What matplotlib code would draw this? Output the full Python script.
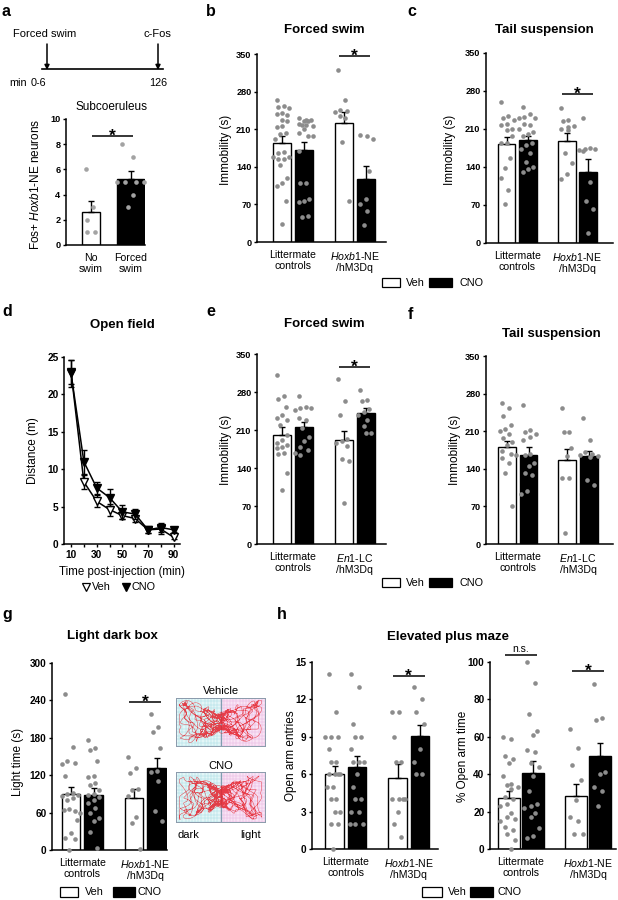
import numpy as np
import matplotlib
matplotlib.use('Agg')
import matplotlib.pyplot as plt
from matplotlib.patches import Rectangle

plt.rcParams['font.family'] = ['Liberation Sans', 'DejaVu Sans']
plt.rcParams['mathtext.fontset'] = 'custom'
plt.rcParams['mathtext.rm'] = 'Liberation Sans'
plt.rcParams['mathtext.it'] = 'Liberation Sans:italic'
plt.rcParams['mathtext.bf'] = 'Liberation Sans:bold'

W, H = 618, 900

# ---------------- data ----------------
# a: Fos+ neurons, subcoeruleus
a_labels = ['No\nswim', 'Forced\nswim']
a_means = [2.6, 5.25]
a_sems = [0.9, 0.65]
a_dots = [[6, 3, 2, 1, 1], [8, 7, 5, 5, 5, 5, 4, 3]]

hox_labels = ['Littermate\ncontrols', '$\\it{Hoxb1}$-NE\n/hM3Dq']
en1_labels = ['Littermate\ncontrols', '$\\it{En1}$-LC\n/hM3Dq']
# order of bars: littermate Veh, littermate CNO, transgenic Veh, transgenic CNO

# b: forced swim, Hoxb1-NE
b_means = [184, 171, 222, 118]
b_sems = [13, 15, 20, 23]
b_dots = [[265, 254, 252, 250, 240, 238, 236, 228, 225, 216, 214, 203, 201, 191,
           167, 166, 158, 158, 155, 155, 144, 119, 110, 104, 76, 34],
          [230, 228, 228, 226, 226, 220, 218, 218, 216, 210, 202, 198, 197, 170,
           110, 110, 80, 76, 75, 48, 46],
          [321, 264, 246, 244, 242, 234, 230, 186, 76],
          [200, 198, 191, 133, 80, 70, 57, 31]]

# c: tail suspension, Hoxb1-NE
c_means = [183, 189, 188, 131]
c_sems = [12, 9, 14, 24]
c_dots = [[260, 234, 231, 226, 219, 217, 210, 208, 198, 184, 184, 157, 138, 120, 98, 72],
          [250, 238, 232, 230, 230, 220, 218, 210, 204, 200, 198, 184, 180, 173,
           165, 150, 140, 137, 131],
          [248, 226, 224, 216, 214, 210, 208, 166, 148, 128, 118],
          [230, 175, 174, 173, 172, 170, 113, 77, 62, 18]]

# d: open field distance
d_time = [10, 20, 30, 40, 50, 60, 70, 80, 90]
d_veh = [23.0, 8.3, 5.7, 4.6, 3.8, 3.4, 1.9, 2.0, 0.9]
d_veh_err = [1.6, 0.9, 0.8, 0.8, 0.5, 0.4, 0.4, 0.6, 0.2]
d_cno = [22.8, 11.0, 7.5, 6.2, 4.3, 4.0, 1.9, 2.2, 1.9]
d_cno_err = [1.8, 1.6, 0.8, 1.1, 0.9, 0.7, 0.4, 0.6, 0.3]

# e: forced swim, En1-LC
e_means = [201, 215, 191, 241]
e_sems = [14, 10, 18, 9]
e_dots = [[312, 272, 268, 253, 237, 232, 228, 220, 200, 191, 186, 182, 179, 176,
           168, 165, 131, 99],
          [272, 252, 250, 250, 247, 232, 229, 214, 198, 190, 178, 173, 168, 164],
          [304, 263, 237, 193, 189, 186, 181, 156, 152, 76],
          [284, 266, 264, 248, 244, 238, 229, 218, 204, 204]]

# f: tail suspension, En1-LC
f_means = [180, 166, 157, 163]
f_sems = [11, 14, 20, 10]
f_dots = [[263, 254, 238, 222, 215, 210, 204, 198, 190, 184, 174, 168, 165, 160,
           150, 132, 70],
          [258, 212, 208, 204, 200, 194, 168, 166, 150, 146, 132, 128, 98, 94],
          [253, 209, 209, 178, 163, 123, 123, 20],
          [234, 194, 172, 168, 166, 164, 162, 120, 110]]

# g: light dark box
g_means = [90, 88, 84, 131]
g_sems = [11, 12, 14, 17]
g_dots = [[250, 166, 143, 140, 138, 119, 92, 90, 88, 86, 83, 80, 65, 64, 62, 60,
           48, 27, 20, 18, 0],
          [177, 164, 160, 143, 118, 117, 108, 104, 96, 90, 88, 85, 80, 75, 67, 59,
           52, 46, 29, 3],
          [150, 132, 124, 98, 96, 86, 53, 43, 1],
          [218, 198, 190, 163, 127, 125, 110, 62, 47]]

# h: elevated plus maze
h1_means = [6.0, 6.55, 5.7, 9.1]
h1_sems = [0.68, 0.88, 1.1, 0.85]
h1_dots = [[14, 11, 9, 9, 9, 8, 7, 7, 6, 6, 6, 6, 5, 5, 4, 4, 3, 3, 2, 2, 0],
           [14, 13, 10, 9, 9, 8, 7, 7, 7, 6, 5, 4, 4, 3, 3, 2, 2, 2],
           [11, 11, 9, 7, 7, 4, 4, 4, 4, 3, 2, 1],
           [13, 12, 11, 10, 8, 7, 6, 6]]

h2_means = [27.3, 40.5, 28.5, 49.5]
h2_sems = [3.8, 6.7, 6.2, 7.2]
h2_dots = [[60, 59, 50, 48, 46, 39, 35, 34, 33, 32, 28, 27, 24, 23, 19, 17, 16, 15,
            12, 10, 8, 5, 0],
           [100, 89, 72, 63, 61, 53, 52, 46, 44, 39, 31, 24, 23, 22, 19, 17, 11, 7, 6],
           [64, 54, 45, 37, 26, 17, 15, 8, 8],
           [88, 70, 69, 41, 40, 33, 31, 23]]

# ---------------- helpers ----------------
fig = plt.figure(figsize=(W / 100, H / 100), dpi=100)

DOT = '#8c8c8c'


def add_ax(box):
    l, t, r, b = box
    return fig.add_axes([l / W, 1 - b / H, (r - l) / W, (b - t) / H])


def style(ax, ymax, ystep, ysize):
    for s in ['top', 'right']:
        ax.spines[s].set_visible(False)
    for s in ['left', 'bottom']:
        ax.spines[s].set_linewidth(1.1)
    ax.set_ylim(0, ymax)
    ticks = np.arange(0, ymax + ystep / 2, ystep)
    ax.set_yticks(ticks)
    ax.set_yticklabels([f'{t:g}' for t in ticks], fontweight='bold', fontsize=ysize)
    ax.tick_params(axis='y', length=2.5, width=1, pad=1.5)


def spread(vals, span, half=0.4, sep=0.18):
    # simple deterministic swarm so equal values sit side by side
    cand = np.linspace(-half, half, 11)
    placed, out = [], []
    for i, v in enumerate(vals):
        pref = ((i * 0.618) % 1 - 0.5) * 1.3 * half
        near = [o for pv, o in placed if abs(pv - v) < span * 0.03]
        order = sorted(cand, key=lambda c: abs(c - pref))
        pick = order[0]
        for c in order:
            if all(abs(c - u) > sep for u in near):
                pick = c
                break
        placed.append((v, pick))
        out.append(pick)
    return np.array(out)


def bar_panel(ax, box, c0, unit, means, sems, dots, ymax, ystep, labels,
              pos=(0, 1, 2.8, 3.8), width=0.82, ysize=6.6, dotc=DOT,
              colors=('white', 'black', 'white', 'black')):
    l, t, r, b = box
    ax.set_xlim((l - c0) / unit, (r - c0) / unit)
    pos = np.array(pos, dtype=float)
    ax.bar(pos, means, width=width, color=colors, edgecolor='black', linewidth=1, zorder=2)
    ax.errorbar(pos, means, yerr=[np.zeros(len(means)), sems], fmt='none', ecolor='black',
                elinewidth=1, capsize=2.5, capthick=1, zorder=3)
    w = np.atleast_1d(width) * np.ones(len(pos))
    for p, ww, vals in zip(pos, w, dots):
        xs = spread(vals, ymax, half=ww * 0.5, sep=0.18)
        ax.scatter(p + xs, vals, s=11, color=dotc, linewidths=0, zorder=4, clip_on=False)
    style(ax, ymax, ystep, ysize)
    if len(pos) == 4:
        centers = [(pos[0] + pos[1]) / 2, (pos[2] + pos[3]) / 2]
    else:
        centers = pos
    ax.set_xticks(centers)
    ax.set_xticklabels(labels, fontsize=7.6, linespacing=1.05)
    ax.tick_params(axis='x', length=0, pad=6)
    return pos


def sig(ax, x1, x2, y, txt='*'):
    ax.plot([x1, x2], [y, y], color='black', lw=1.1, clip_on=False, solid_capstyle='butt')
    if txt == '*':
        ax.annotate(txt, xy=((x1 + x2) / 2, y), xytext=(0, -3.5), textcoords='offset points',
                    ha='center', va='baseline', fontsize=12.5, fontweight='bold',
                    annotation_clip=False)
    else:
        ax.annotate(txt, xy=((x1 + x2) / 2, y), xytext=(0, 1.0), textcoords='offset points',
                    ha='center', va='bottom', fontsize=7.5, annotation_clip=False)


# ---------------- panel boxes (pixels: left, top, right, bottom) ----------------
box_a = (66, 119, 145, 245)
box_b = (257, 54, 386, 242)
box_c = (486, 53, 613, 243)
box_d = (64, 357, 180, 544)
box_e = (257, 354, 386, 544)
box_f = (486, 356, 613, 544)
box_g = (52, 663, 167, 850)
box_h1 = (312, 662, 438, 849)
box_h2 = (490, 662, 616, 849)

# a
ax_a = add_ax(box_a)
bar_panel(ax_a, box_a, 91, 39.5, a_means, a_sems, a_dots, 10, 2, a_labels,
          pos=(0, 1), width=[0.46, 0.68], ysize=6.6, dotc='#a3a3a3', colors=('white', 'black'))
sig(ax_a, 0.03, 1.06, 8.65)

# b
ax_b = add_ax(box_b)
bar_panel(ax_b, box_b, 282, 22, b_means, b_sems, b_dots, 350, 70, hox_labels)
sig(ax_b, 3.3 - 0.72, 3.3 + 0.72, 346)

# c
ax_c = add_ax(box_c)
bar_panel(ax_c, box_c, 506.5, 21.5, c_means, c_sems, c_dots, 350, 70, hox_labels)
sig(ax_c, 3.3 - 0.72, 3.3 + 0.72, 274)

# d
ax_d = add_ax(box_d)
ax_d.errorbar(d_time, d_veh, yerr=d_veh_err, fmt='-v', color='black', mfc='white', mec='black',
              ms=5.5, mew=1, lw=1.1, elinewidth=1, capsize=2.5, capthick=1, clip_on=False, zorder=3)
ax_d.errorbar(d_time, d_cno, yerr=d_cno_err, fmt='-v', color='black', mfc='black', mec='black',
              ms=5.5, mew=1, lw=1.1, elinewidth=1, capsize=2.5, capthick=1, clip_on=False, zorder=4)
ax_d.set_xlim(4.5, 95)
style(ax_d, 25, 5, 7.3)
ax_d.set_xticks([10, 30, 50, 70, 90])
ax_d.set_xticklabels(['10', '30', '50', '70', '90'], fontweight='bold', fontsize=7.3)
ax_d.set_xticks([20, 40, 60, 80], minor=True)
ax_d.tick_params(axis='x', which='both', length=2.5, width=1, pad=1.5)

# e
ax_e = add_ax(box_e)
bar_panel(ax_e, box_e, 282, 22, e_means, e_sems, e_dots, 350, 70, en1_labels)
sig(ax_e, 3.3 - 0.72, 3.3 + 0.72, 326)

# f
ax_f = add_ax(box_f)
bar_panel(ax_f, box_f, 507, 21.5, f_means, f_sems, f_dots, 350, 70, en1_labels)

# g
ax_g = add_ax(box_g)
bar_panel(ax_g, box_g, 71, 22.5, g_means, g_sems, g_dots, 300, 60, hox_labels, ysize=7.2)
sig(ax_g, 3.3 - 0.72, 3.3 + 0.72, 237)

# h
ax_h1 = add_ax(box_h1)
bar_panel(ax_h1, box_h1, 334.5, 22.5, h1_means, h1_sems, h1_dots, 15, 3, hox_labels, ysize=7.2)
sig(ax_h1, 3.3 - 0.72, 3.3 + 0.72, 13.9)

ax_h2 = add_ax(box_h2)
bar_panel(ax_h2, box_h2, 509, 24, h2_means, h2_sems, h2_dots, 100, 20, hox_labels,
          width=0.9, ysize=7.2)
sig(ax_h2, 0.5 - 0.66, 0.5 + 0.66, 103.7, 'n.s.')
sig(ax_h2, 3.3 - 0.66, 3.3 + 0.66, 95.2)

# trajectory thumbnails in g
def traj(box, k):
    ax = add_ax(box)
    ax.set_xlim(0, 1)
    ax.set_ylim(0, 1)
    ax.set_xticks([])
    ax.set_yticks([])
    for s in ax.spines.values():
        s.set_color('#8a9aab')
        s.set_linewidth(0.7)
    ax.add_patch(Rectangle((0, 0), 0.5, 1, color='#e4f6f7', zorder=0))
    ax.add_patch(Rectangle((0.5, 0), 0.5, 1, color='#f9e4f5', zorder=0))
    for gx in np.linspace(0, 1, 29):
        ax.plot([gx, gx], [0, 1], color='#a6dde4' if gx < 0.5 else '#e7b2df', lw=0.35, zorder=1)
    for gy in np.linspace(0, 1, 15):
        ax.plot([0, 0.5], [gy, gy], color='#a6dde4', lw=0.35, zorder=1)
        ax.plot([0.5, 1], [gy, gy], color='#e7b2df', lw=0.35, zorder=1)
    ax.plot([0.5, 0.5], [0, 1], color='#7f9db0', lw=0.9, zorder=2)
    # scribble imitating the tracked path image
    t = np.linspace(0, 1, 4000)
    x = 0.5 + 0.44 * np.sin(2 * np.pi * (9 + k) * t) * np.sin(2 * np.pi * 2.3 * t + 0.4 + k)
    x = x + 0.05 * np.sin(2 * np.pi * 61 * t) + 0.03 * np.sin(2 * np.pi * 143 * t + k)
    amp = np.abs(x - 0.5) * 2
    y = 0.5 + 0.43 * np.sin(2 * np.pi * (23 + 2 * k) * t + 1) * np.clip(amp, 0.1, 1) ** 0.4
    y = y + 0.04 * np.sin(2 * np.pi * 97 * t) + 0.03 * np.sin(2 * np.pi * 171 * t + 2 * k)
    ax.plot(np.clip(x, 0.04, 0.96), np.clip(y, 0.05, 0.95), color='#e5212b', lw=0.35,
            alpha=0.85, zorder=3)
    return ax

traj((176, 698, 265, 746), 0)
traj((176, 772, 265, 822), 1)

# ---------------- overlay for text, legends, timeline ----------------
ov = fig.add_axes([0, 0, 1, 1], zorder=10)
ov.set_xlim(0, W)
ov.set_ylim(H, 0)
ov.axis('off')
ov.patch.set_alpha(0)

for s, x, y in [('a', 2, 16), ('b', 206, 16), ('c', 407, 16), ('d', 2, 316), ('e', 206, 316),
                ('f', 408, 319), ('g', 2, 619), ('h', 277, 619)]:
    ov.text(x, y, s, fontsize=11.5, fontweight='bold', ha='left', va='baseline')

for s, x, y in [('Forced swim', 324, 33), ('Tail suspension', 544, 33), ('Open field', 122, 328),
                ('Forced swim', 324, 327), ('Tail suspension', 551, 337),
                ('Light dark box', 112, 639), ('Elevated plus maze', 448, 640)]:
    ov.text(x, y, s, fontsize=9.5, fontweight='bold', ha='center', va='baseline')
ov.text(111, 110, 'Subcoeruleus', fontsize=8.5, ha='center', va='baseline')

for s, x, y in [('Fos+ $\\it{Hoxb1}$-NE neurons', 36, 184), ('Immobility (s)', 226, 150),
                ('Immobility (s)', 450, 150), ('Distance (m)', 33, 451),
                ('Immobility (s)', 226, 450), ('Immobility (s)', 455, 450),
                ('Light time (s)', 18, 762), ('Open arm entries', 291, 756),
                ('% Open arm time', 463, 756)]:
    ov.text(x, y, s, fontsize=8.5, rotation=90, ha='center', va='center')

ov.text(122, 575, 'Time post-injection (min)', fontsize=8.3, ha='center', va='baseline')

# timeline (panel a)
ov.text(45, 37, 'Forced swim', fontsize=8, ha='center', va='baseline')
ov.text(157, 37, 'c-Fos', fontsize=8, ha='center', va='baseline')
ov.plot([42, 163], [69, 69], color='black', lw=1.2)
for xa in (47, 158):
    ov.annotate('', xy=(xa, 70), xytext=(xa, 44),
                arrowprops=dict(arrowstyle='-|>', color='black', lw=1.1, mutation_scale=7,
                                shrinkA=0, shrinkB=0))
ov.text(9, 86, 'min', fontsize=7.8, ha='left', va='baseline')
ov.text(31, 86, '0-6', fontsize=7.8, ha='left', va='baseline')
ov.text(149, 86, '126', fontsize=7.8, ha='left', va='baseline')

# trajectory captions
ov.text(221, 694, 'Vehicle', fontsize=8, ha='center', va='baseline')
ov.text(221, 769, 'CNO', fontsize=8, ha='center', va='baseline')
ov.text(177, 838, 'dark', fontsize=8, ha='left', va='baseline')
ov.text(261, 838, 'light', fontsize=8, ha='right', va='baseline')


def legend_row(xw, xv, xb, xc, y0, y1, wb=18, bb=23):
    ov.add_patch(Rectangle((xw, y0), wb, y1 - y0, facecolor='white', edgecolor='black', lw=0.9))
    ov.add_patch(Rectangle((xb, y0), bb, y1 - y0, facecolor='black', edgecolor='black', lw=0.9))
    ym = (y0 + y1) / 2
    ov.text(xv, ym, 'Veh', fontsize=7.8, ha='left', va='center')
    ov.text(xc, ym, 'CNO', fontsize=7.8, ha='left', va='center')


legend_row(382, 406, 429, 459, 278, 287)
legend_row(382, 406, 429, 459, 578, 587)
legend_row(60, 85, 113, 138, 887, 897, wb=18, bb=22)
legend_row(422, 448, 470, 498, 887, 897, wb=20, bb=23)

# panel d legend
ov.plot([86], [587], marker='v', ms=5.5, mfc='white', mec='black', mew=0.9, ls='none')
ov.text(92, 587, 'Veh', fontsize=7.8, ha='left', va='center')
ov.plot([126], [587], marker='v', ms=5.5, mfc='black', mec='black', ls='none')
ov.text(132, 587, 'CNO', fontsize=7.8, ha='left', va='center')

fig.savefig('out.png', dpi=100)
